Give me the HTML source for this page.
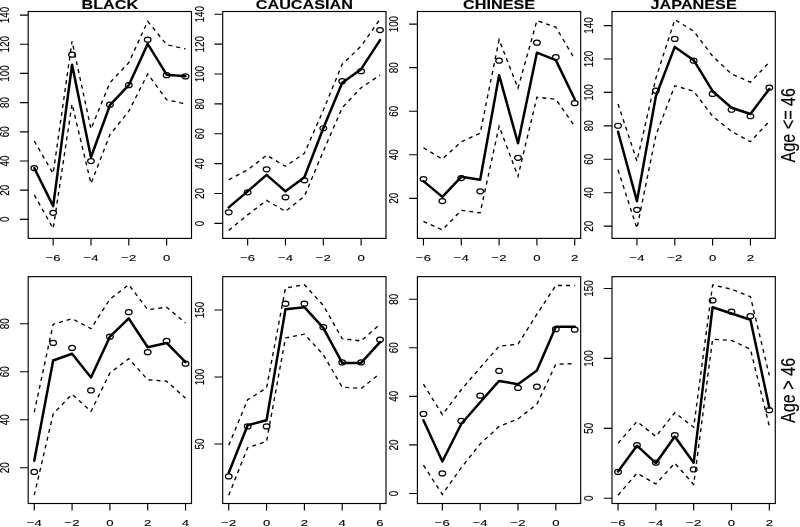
<!DOCTYPE html>
<html><head><meta charset="utf-8"><title>Figure</title>
<style>
html,body{margin:0;padding:0;background:#fff;}
body{width:800px;height:527px;overflow:hidden;}
svg{display:block;}
.t{font-family:"Liberation Sans",Arial,sans-serif;fill:#000;stroke:#000;stroke-width:0.12px;}
.b{font-weight:bold;}
</style></head><body>
<svg width="800" height="527" viewBox="0 0 800 527">
<rect width="800" height="527" fill="#fff"/>
<g>
<path d="M53.16 238.4v7M90.98 238.4v7M128.8 238.4v7M166.62 238.4v7M28.2 219.37h-8.3M28.2 190.19h-8.3M28.2 161h-8.3M28.2 131.81h-8.3M28.2 102.62h-8.3M28.2 73.43h-8.3M28.2 44.24h-8.3M28.2 15.05h-8.3" stroke="#000" stroke-width="1.15" fill="none"/>
<rect x="28.2" y="11.5" width="163.3" height="226.9" fill="none" stroke="#000" stroke-width="1.15"/>
<text class="t" font-size="9.9" text-anchor="middle" transform="translate(53.16 261.1) scale(1.33 1)">−6</text>
<text class="t" font-size="9.9" text-anchor="middle" transform="translate(90.98 261.1) scale(1.33 1)">−4</text>
<text class="t" font-size="9.9" text-anchor="middle" transform="translate(128.8 261.1) scale(1.33 1)">−2</text>
<text class="t" font-size="9.9" text-anchor="middle" transform="translate(166.62 261.1) scale(1.33 1)">0</text>
<text class="t" font-size="9.9" text-anchor="middle" transform="translate(9.2 219.37) scale(1.33 1) rotate(-90)">0</text>
<text class="t" font-size="9.9" text-anchor="middle" transform="translate(9.2 190.19) scale(1.33 1) rotate(-90)">20</text>
<text class="t" font-size="9.9" text-anchor="middle" transform="translate(9.2 161) scale(1.33 1) rotate(-90)">40</text>
<text class="t" font-size="9.9" text-anchor="middle" transform="translate(9.2 131.81) scale(1.33 1) rotate(-90)">60</text>
<text class="t" font-size="9.9" text-anchor="middle" transform="translate(9.2 102.62) scale(1.33 1) rotate(-90)">80</text>
<text class="t" font-size="9.9" text-anchor="middle" transform="translate(9.2 73.43) scale(1.33 1) rotate(-90)">100</text>
<text class="t" font-size="9.9" text-anchor="middle" transform="translate(9.2 44.24) scale(1.33 1) rotate(-90)">120</text>
<text class="t" font-size="9.9" text-anchor="middle" transform="translate(9.2 15.05) scale(1.33 1) rotate(-90)">140</text>
<text class="t b" font-size="12.2" text-anchor="middle" transform="translate(109.85 9.4) scale(1.33 1)">BLACK</text>
<polyline points="34.25,141.02 53.16,173.56 72.07,41.14 90.98,128.96 109.89,82.69 128.8,62.67 147.71,21.36 166.62,44.64 185.53,48.9" fill="none" stroke="#000" stroke-width="1.35" stroke-dasharray="4 4"/>
<polyline points="34.25,194.84 53.16,228.64 72.07,103.97 90.98,183.58 109.89,134.76 128.8,111.23 147.71,73.93 166.62,99.72 185.53,103.97" fill="none" stroke="#000" stroke-width="1.35" stroke-dasharray="4 4"/>
<polyline points="34.25,168.06 53.16,206.11 72.07,64.67 90.98,157.29 109.89,105.22 128.8,85.2 147.71,43.89 166.62,74.68 185.53,76.19" fill="none" stroke="#000" stroke-width="2.5" stroke-linejoin="round" stroke-linecap="round"/>
<ellipse cx="34.25" cy="168.06" rx="3.35" ry="2.5" fill="none" stroke="#000" stroke-width="1.2"/>
<ellipse cx="53.16" cy="212.87" rx="3.35" ry="2.5" fill="none" stroke="#000" stroke-width="1.2"/>
<ellipse cx="72.07" cy="54.66" rx="3.35" ry="2.5" fill="none" stroke="#000" stroke-width="1.2"/>
<ellipse cx="90.98" cy="161.05" rx="3.35" ry="2.5" fill="none" stroke="#000" stroke-width="1.2"/>
<ellipse cx="109.89" cy="104.72" rx="3.35" ry="2.5" fill="none" stroke="#000" stroke-width="1.2"/>
<ellipse cx="128.8" cy="85.2" rx="3.35" ry="2.5" fill="none" stroke="#000" stroke-width="1.2"/>
<ellipse cx="147.71" cy="39.64" rx="3.35" ry="2.5" fill="none" stroke="#000" stroke-width="1.2"/>
<ellipse cx="166.62" cy="75.18" rx="3.35" ry="2.5" fill="none" stroke="#000" stroke-width="1.2"/>
<ellipse cx="185.53" cy="76.44" rx="3.35" ry="2.5" fill="none" stroke="#000" stroke-width="1.2"/>
</g>
<g>
<path d="M247.66 238.4v7M285.48 238.4v7M323.3 238.4v7M361.12 238.4v7M222.7 223.38h-8.3M222.7 193.51h-8.3M222.7 163.64h-8.3M222.7 133.77h-8.3M222.7 103.9h-8.3M222.7 74.03h-8.3M222.7 44.16h-8.3M222.7 14.29h-8.3" stroke="#000" stroke-width="1.15" fill="none"/>
<rect x="222.7" y="11.5" width="163.3" height="226.9" fill="none" stroke="#000" stroke-width="1.15"/>
<text class="t" font-size="9.9" text-anchor="middle" transform="translate(247.66 261.1) scale(1.33 1)">−6</text>
<text class="t" font-size="9.9" text-anchor="middle" transform="translate(285.48 261.1) scale(1.33 1)">−4</text>
<text class="t" font-size="9.9" text-anchor="middle" transform="translate(323.3 261.1) scale(1.33 1)">−2</text>
<text class="t" font-size="9.9" text-anchor="middle" transform="translate(361.12 261.1) scale(1.33 1)">0</text>
<text class="t" font-size="9.9" text-anchor="middle" transform="translate(203.7 223.38) scale(1.33 1) rotate(-90)">0</text>
<text class="t" font-size="9.9" text-anchor="middle" transform="translate(203.7 193.51) scale(1.33 1) rotate(-90)">20</text>
<text class="t" font-size="9.9" text-anchor="middle" transform="translate(203.7 163.64) scale(1.33 1) rotate(-90)">40</text>
<text class="t" font-size="9.9" text-anchor="middle" transform="translate(203.7 133.77) scale(1.33 1) rotate(-90)">60</text>
<text class="t" font-size="9.9" text-anchor="middle" transform="translate(203.7 103.9) scale(1.33 1) rotate(-90)">80</text>
<text class="t" font-size="9.9" text-anchor="middle" transform="translate(203.7 74.03) scale(1.33 1) rotate(-90)">100</text>
<text class="t" font-size="9.9" text-anchor="middle" transform="translate(203.7 44.16) scale(1.33 1) rotate(-90)">120</text>
<text class="t" font-size="9.9" text-anchor="middle" transform="translate(203.7 14.29) scale(1.33 1) rotate(-90)">140</text>
<text class="t b" font-size="12.2" text-anchor="middle" transform="translate(304.35 9.4) scale(1.33 1)">CAUCASIAN</text>
<polyline points="228.75,179.82 247.66,169.81 266.57,155.29 285.48,166.3 304.39,153.29 323.3,110.23 342.21,64.17 361.12,46.15 380.03,19.11" fill="none" stroke="#000" stroke-width="1.35" stroke-dasharray="4 4"/>
<polyline points="228.75,230.39 247.66,214.87 266.57,200.35 285.48,211.36 304.39,196.34 323.3,151.28 342.21,107.73 361.12,87.7 380.03,75.18" fill="none" stroke="#000" stroke-width="1.35" stroke-dasharray="4 4"/>
<polyline points="228.75,207.36 247.66,191.34 266.57,174.82 285.48,191.34 304.39,177.32 323.3,128.25 342.21,82.69 361.12,69.18 380.03,40.14" fill="none" stroke="#000" stroke-width="2.5" stroke-linejoin="round" stroke-linecap="round"/>
<ellipse cx="228.75" cy="212.37" rx="3.35" ry="2.5" fill="none" stroke="#000" stroke-width="1.2"/>
<ellipse cx="247.66" cy="192.34" rx="3.35" ry="2.5" fill="none" stroke="#000" stroke-width="1.2"/>
<ellipse cx="266.57" cy="169.31" rx="3.35" ry="2.5" fill="none" stroke="#000" stroke-width="1.2"/>
<ellipse cx="285.48" cy="197.35" rx="3.35" ry="2.5" fill="none" stroke="#000" stroke-width="1.2"/>
<ellipse cx="304.39" cy="180.32" rx="3.35" ry="2.5" fill="none" stroke="#000" stroke-width="1.2"/>
<ellipse cx="323.3" cy="128.25" rx="3.35" ry="2.5" fill="none" stroke="#000" stroke-width="1.2"/>
<ellipse cx="342.21" cy="81.19" rx="3.35" ry="2.5" fill="none" stroke="#000" stroke-width="1.2"/>
<ellipse cx="361.12" cy="71.18" rx="3.35" ry="2.5" fill="none" stroke="#000" stroke-width="1.2"/>
<ellipse cx="380.03" cy="30.12" rx="3.35" ry="2.5" fill="none" stroke="#000" stroke-width="1.2"/>
</g>
<g>
<path d="M423.45 238.4v7M461.27 238.4v7M499.09 238.4v7M536.91 238.4v7M574.73 238.4v7M417.4 198.35h-8.3M417.4 154.79h-8.3M417.4 111.23h-8.3M417.4 67.67h-8.3M417.4 24.12h-8.3" stroke="#000" stroke-width="1.15" fill="none"/>
<rect x="417.4" y="11.5" width="163.3" height="226.9" fill="none" stroke="#000" stroke-width="1.15"/>
<text class="t" font-size="9.9" text-anchor="middle" transform="translate(423.45 261.1) scale(1.33 1)">−6</text>
<text class="t" font-size="9.9" text-anchor="middle" transform="translate(461.27 261.1) scale(1.33 1)">−4</text>
<text class="t" font-size="9.9" text-anchor="middle" transform="translate(499.09 261.1) scale(1.33 1)">−2</text>
<text class="t" font-size="9.9" text-anchor="middle" transform="translate(536.91 261.1) scale(1.33 1)">0</text>
<text class="t" font-size="9.9" text-anchor="middle" transform="translate(574.73 261.1) scale(1.33 1)">2</text>
<text class="t" font-size="9.9" text-anchor="middle" transform="translate(398.4 198.35) scale(1.33 1) rotate(-90)">20</text>
<text class="t" font-size="9.9" text-anchor="middle" transform="translate(398.4 154.79) scale(1.33 1) rotate(-90)">40</text>
<text class="t" font-size="9.9" text-anchor="middle" transform="translate(398.4 111.23) scale(1.33 1) rotate(-90)">60</text>
<text class="t" font-size="9.9" text-anchor="middle" transform="translate(398.4 67.67) scale(1.33 1) rotate(-90)">80</text>
<text class="t" font-size="9.9" text-anchor="middle" transform="translate(398.4 24.12) scale(1.33 1) rotate(-90)">100</text>
<text class="t b" font-size="12.2" text-anchor="middle" transform="translate(499.05 9.4) scale(1.33 1)">CHINESE</text>
<polyline points="423.45,147.78 442.36,159.1 461.27,141.77 480.18,133.26 499.09,39.64 518,88.2 536.91,20.61 555.82,27.12 574.73,59.16" fill="none" stroke="#000" stroke-width="1.35" stroke-dasharray="4 4"/>
<polyline points="423.45,221.38 442.36,229.89 461.27,210.36 480.18,212.87 499.09,126.25 518,176.32 536.91,97.21 555.82,99.22 574.73,126.25" fill="none" stroke="#000" stroke-width="1.35" stroke-dasharray="4 4"/>
<polyline points="423.45,181.12 442.36,196.85 461.27,176.82 480.18,179.82 499.09,75.18 518,143.27 536.91,52.65 555.82,60.16 574.73,99.22" fill="none" stroke="#000" stroke-width="2.5" stroke-linejoin="round" stroke-linecap="round"/>
<ellipse cx="423.45" cy="179.07" rx="3.35" ry="2.5" fill="none" stroke="#000" stroke-width="1.2"/>
<ellipse cx="442.36" cy="201.1" rx="3.35" ry="2.5" fill="none" stroke="#000" stroke-width="1.2"/>
<ellipse cx="461.27" cy="178.07" rx="3.35" ry="2.5" fill="none" stroke="#000" stroke-width="1.2"/>
<ellipse cx="480.18" cy="191.34" rx="3.35" ry="2.5" fill="none" stroke="#000" stroke-width="1.2"/>
<ellipse cx="499.09" cy="60.67" rx="3.35" ry="2.5" fill="none" stroke="#000" stroke-width="1.2"/>
<ellipse cx="518" cy="157.79" rx="3.35" ry="2.5" fill="none" stroke="#000" stroke-width="1.2"/>
<ellipse cx="536.91" cy="42.64" rx="3.35" ry="2.5" fill="none" stroke="#000" stroke-width="1.2"/>
<ellipse cx="555.82" cy="57.16" rx="3.35" ry="2.5" fill="none" stroke="#000" stroke-width="1.2"/>
<ellipse cx="574.73" cy="103.22" rx="3.35" ry="2.5" fill="none" stroke="#000" stroke-width="1.2"/>
</g>
<g>
<path d="M636.96 238.4v7M674.78 238.4v7M712.6 238.4v7M750.42 238.4v7M612 226.13h-8.3M612 192.71h-8.3M612 159.29h-8.3M612 125.86h-8.3M612 92.44h-8.3M612 59.01h-8.3M612 25.59h-8.3" stroke="#000" stroke-width="1.15" fill="none"/>
<rect x="612" y="11.5" width="163.3" height="226.9" fill="none" stroke="#000" stroke-width="1.15"/>
<text class="t" font-size="9.9" text-anchor="middle" transform="translate(636.96 261.1) scale(1.33 1)">−4</text>
<text class="t" font-size="9.9" text-anchor="middle" transform="translate(674.78 261.1) scale(1.33 1)">−2</text>
<text class="t" font-size="9.9" text-anchor="middle" transform="translate(712.6 261.1) scale(1.33 1)">0</text>
<text class="t" font-size="9.9" text-anchor="middle" transform="translate(750.42 261.1) scale(1.33 1)">2</text>
<text class="t" font-size="9.9" text-anchor="middle" transform="translate(593 226.13) scale(1.33 1) rotate(-90)">20</text>
<text class="t" font-size="9.9" text-anchor="middle" transform="translate(593 192.71) scale(1.33 1) rotate(-90)">40</text>
<text class="t" font-size="9.9" text-anchor="middle" transform="translate(593 159.29) scale(1.33 1) rotate(-90)">60</text>
<text class="t" font-size="9.9" text-anchor="middle" transform="translate(593 125.86) scale(1.33 1) rotate(-90)">80</text>
<text class="t" font-size="9.9" text-anchor="middle" transform="translate(593 92.44) scale(1.33 1) rotate(-90)">100</text>
<text class="t" font-size="9.9" text-anchor="middle" transform="translate(593 59.01) scale(1.33 1) rotate(-90)">120</text>
<text class="t" font-size="9.9" text-anchor="middle" transform="translate(593 25.59) scale(1.33 1) rotate(-90)">140</text>
<text class="t b" font-size="12.2" text-anchor="middle" transform="translate(693.65 9.4) scale(1.33 1)">JAPANESE</text>
<text class="t" font-size="16.15" text-anchor="middle" transform="translate(794.6 125.25) scale(1.2 1) rotate(-90)">Age <= 46</text>
<polyline points="618.05,103.97 636.96,161.05 655.87,78.19 674.78,19.61 693.69,31.13 712.6,56.16 731.51,73.93 750.42,82.19 769.33,62.17" fill="none" stroke="#000" stroke-width="1.35" stroke-dasharray="4 4"/>
<polyline points="618.05,169.81 636.96,228.39 655.87,135.26 674.78,85.7 693.69,91.21 712.6,116.24 731.51,131.26 750.42,141.77 769.33,121.25" fill="none" stroke="#000" stroke-width="1.35" stroke-dasharray="4 4"/>
<polyline points="618.05,131.76 636.96,201.1 655.87,96.21 674.78,46.9 693.69,60.16 712.6,91.21 731.51,107.73 750.42,113.99 769.33,88.95" fill="none" stroke="#000" stroke-width="2.5" stroke-linejoin="round" stroke-linecap="round"/>
<ellipse cx="618.05" cy="125.75" rx="3.35" ry="2.5" fill="none" stroke="#000" stroke-width="1.2"/>
<ellipse cx="636.96" cy="209.86" rx="3.35" ry="2.5" fill="none" stroke="#000" stroke-width="1.2"/>
<ellipse cx="655.87" cy="90.7" rx="3.35" ry="2.5" fill="none" stroke="#000" stroke-width="1.2"/>
<ellipse cx="674.78" cy="38.89" rx="3.35" ry="2.5" fill="none" stroke="#000" stroke-width="1.2"/>
<ellipse cx="693.69" cy="60.67" rx="3.35" ry="2.5" fill="none" stroke="#000" stroke-width="1.2"/>
<ellipse cx="712.6" cy="93.96" rx="3.35" ry="2.5" fill="none" stroke="#000" stroke-width="1.2"/>
<ellipse cx="731.51" cy="109.73" rx="3.35" ry="2.5" fill="none" stroke="#000" stroke-width="1.2"/>
<ellipse cx="750.42" cy="116.24" rx="3.35" ry="2.5" fill="none" stroke="#000" stroke-width="1.2"/>
<ellipse cx="769.33" cy="87.7" rx="3.35" ry="2.5" fill="none" stroke="#000" stroke-width="1.2"/>
</g>
<g>
<path d="M34.25 503.5v7M72.07 503.5v7M109.89 503.5v7M147.71 503.5v7M185.53 503.5v7M28.2 467.7h-8.3M28.2 419.7h-8.3M28.2 371.7h-8.3M28.2 323.7h-8.3" stroke="#000" stroke-width="1.15" fill="none"/>
<rect x="28.2" y="276.65" width="163.3" height="226.85" fill="none" stroke="#000" stroke-width="1.15"/>
<text class="t" font-size="9.9" text-anchor="middle" transform="translate(34.25 525.7) scale(1.33 1)">−4</text>
<text class="t" font-size="9.9" text-anchor="middle" transform="translate(72.07 525.7) scale(1.33 1)">−2</text>
<text class="t" font-size="9.9" text-anchor="middle" transform="translate(109.89 525.7) scale(1.33 1)">0</text>
<text class="t" font-size="9.9" text-anchor="middle" transform="translate(147.71 525.7) scale(1.33 1)">2</text>
<text class="t" font-size="9.9" text-anchor="middle" transform="translate(185.53 525.7) scale(1.33 1)">4</text>
<text class="t" font-size="9.9" text-anchor="middle" transform="translate(9.2 467.7) scale(1.33 1) rotate(-90)">20</text>
<text class="t" font-size="9.9" text-anchor="middle" transform="translate(9.2 419.7) scale(1.33 1) rotate(-90)">40</text>
<text class="t" font-size="9.9" text-anchor="middle" transform="translate(9.2 371.7) scale(1.33 1) rotate(-90)">60</text>
<text class="t" font-size="9.9" text-anchor="middle" transform="translate(9.2 323.7) scale(1.33 1) rotate(-90)">80</text>
<polyline points="34.25,412.2 53.16,324.2 72.07,318.7 90.98,328.7 109.89,299.2 128.8,284.7 147.71,309.7 166.62,307.2 185.53,322.95" fill="none" stroke="#000" stroke-width="1.35" stroke-dasharray="4 4"/>
<polyline points="34.25,495.2 53.16,413.95 72.07,394.2 90.98,411.45 109.89,372.95 128.8,358.7 147.71,379.7 166.62,381.2 185.53,398.2" fill="none" stroke="#000" stroke-width="1.35" stroke-dasharray="4 4"/>
<polyline points="34.25,460.7 53.16,360.45 72.07,353.7 90.98,377.45 109.89,336.7 128.8,318.45 147.71,347.2 166.62,342.95 185.53,362.2" fill="none" stroke="#000" stroke-width="2.5" stroke-linejoin="round" stroke-linecap="round"/>
<ellipse cx="34.25" cy="471.95" rx="3.35" ry="2.5" fill="none" stroke="#000" stroke-width="1.2"/>
<ellipse cx="53.16" cy="342.95" rx="3.35" ry="2.5" fill="none" stroke="#000" stroke-width="1.2"/>
<ellipse cx="72.07" cy="347.95" rx="3.35" ry="2.5" fill="none" stroke="#000" stroke-width="1.2"/>
<ellipse cx="90.98" cy="390.45" rx="3.35" ry="2.5" fill="none" stroke="#000" stroke-width="1.2"/>
<ellipse cx="109.89" cy="336.7" rx="3.35" ry="2.5" fill="none" stroke="#000" stroke-width="1.2"/>
<ellipse cx="128.8" cy="312.2" rx="3.35" ry="2.5" fill="none" stroke="#000" stroke-width="1.2"/>
<ellipse cx="147.71" cy="352.2" rx="3.35" ry="2.5" fill="none" stroke="#000" stroke-width="1.2"/>
<ellipse cx="166.62" cy="340.95" rx="3.35" ry="2.5" fill="none" stroke="#000" stroke-width="1.2"/>
<ellipse cx="185.53" cy="363.7" rx="3.35" ry="2.5" fill="none" stroke="#000" stroke-width="1.2"/>
</g>
<g>
<path d="M228.75 503.5v7M266.57 503.5v7M304.39 503.5v7M342.21 503.5v7M380.03 503.5v7M222.7 443.95h-8.3M222.7 376.95h-8.3M222.7 309.95h-8.3" stroke="#000" stroke-width="1.15" fill="none"/>
<rect x="222.7" y="276.65" width="163.3" height="226.85" fill="none" stroke="#000" stroke-width="1.15"/>
<text class="t" font-size="9.9" text-anchor="middle" transform="translate(228.75 525.7) scale(1.33 1)">−2</text>
<text class="t" font-size="9.9" text-anchor="middle" transform="translate(266.57 525.7) scale(1.33 1)">0</text>
<text class="t" font-size="9.9" text-anchor="middle" transform="translate(304.39 525.7) scale(1.33 1)">2</text>
<text class="t" font-size="9.9" text-anchor="middle" transform="translate(342.21 525.7) scale(1.33 1)">4</text>
<text class="t" font-size="9.9" text-anchor="middle" transform="translate(380.03 525.7) scale(1.33 1)">6</text>
<text class="t" font-size="9.9" text-anchor="middle" transform="translate(203.7 443.95) scale(1.33 1) rotate(-90)">50</text>
<text class="t" font-size="9.9" text-anchor="middle" transform="translate(203.7 376.95) scale(1.33 1) rotate(-90)">100</text>
<text class="t" font-size="9.9" text-anchor="middle" transform="translate(203.7 309.95) scale(1.33 1) rotate(-90)">150</text>
<polyline points="228.75,445.2 247.66,399.7 266.57,387.95 285.48,287.95 304.39,284.7 323.3,305.45 342.21,338.7 361.12,340.95 380.03,324.2" fill="none" stroke="#000" stroke-width="1.35" stroke-dasharray="4 4"/>
<polyline points="228.75,495.2 247.66,447.7 266.57,441.45 285.48,337.95 304.39,334.2 323.3,354.7 342.21,387.2 361.12,388.45 380.03,373.45" fill="none" stroke="#000" stroke-width="1.35" stroke-dasharray="4 4"/>
<polyline points="228.75,472.7 247.66,425.2 266.57,420.2 285.48,309.2 304.39,307.2 323.3,327.95 342.21,362.95 361.12,362.95 380.03,342.2" fill="none" stroke="#000" stroke-width="2.5" stroke-linejoin="round" stroke-linecap="round"/>
<ellipse cx="228.75" cy="476.45" rx="3.35" ry="2.5" fill="none" stroke="#000" stroke-width="1.2"/>
<ellipse cx="247.66" cy="426.45" rx="3.35" ry="2.5" fill="none" stroke="#000" stroke-width="1.2"/>
<ellipse cx="266.57" cy="426.45" rx="3.35" ry="2.5" fill="none" stroke="#000" stroke-width="1.2"/>
<ellipse cx="285.48" cy="303.7" rx="3.35" ry="2.5" fill="none" stroke="#000" stroke-width="1.2"/>
<ellipse cx="304.39" cy="303.7" rx="3.35" ry="2.5" fill="none" stroke="#000" stroke-width="1.2"/>
<ellipse cx="323.3" cy="327.2" rx="3.35" ry="2.5" fill="none" stroke="#000" stroke-width="1.2"/>
<ellipse cx="342.21" cy="362.45" rx="3.35" ry="2.5" fill="none" stroke="#000" stroke-width="1.2"/>
<ellipse cx="361.12" cy="362.45" rx="3.35" ry="2.5" fill="none" stroke="#000" stroke-width="1.2"/>
<ellipse cx="380.03" cy="339.7" rx="3.35" ry="2.5" fill="none" stroke="#000" stroke-width="1.2"/>
</g>
<g>
<path d="M442.36 503.5v7M480.18 503.5v7M518 503.5v7M555.82 503.5v7M417.4 493.45h-8.3M417.4 444.89h-8.3M417.4 396.33h-8.3M417.4 347.77h-8.3M417.4 299.21h-8.3" stroke="#000" stroke-width="1.15" fill="none"/>
<rect x="417.4" y="276.65" width="163.3" height="226.85" fill="none" stroke="#000" stroke-width="1.15"/>
<text class="t" font-size="9.9" text-anchor="middle" transform="translate(442.36 525.7) scale(1.33 1)">−6</text>
<text class="t" font-size="9.9" text-anchor="middle" transform="translate(480.18 525.7) scale(1.33 1)">−4</text>
<text class="t" font-size="9.9" text-anchor="middle" transform="translate(518 525.7) scale(1.33 1)">−2</text>
<text class="t" font-size="9.9" text-anchor="middle" transform="translate(555.82 525.7) scale(1.33 1)">0</text>
<text class="t" font-size="9.9" text-anchor="middle" transform="translate(398.4 493.45) scale(1.33 1) rotate(-90)">0</text>
<text class="t" font-size="9.9" text-anchor="middle" transform="translate(398.4 444.89) scale(1.33 1) rotate(-90)">20</text>
<text class="t" font-size="9.9" text-anchor="middle" transform="translate(398.4 396.33) scale(1.33 1) rotate(-90)">40</text>
<text class="t" font-size="9.9" text-anchor="middle" transform="translate(398.4 347.77) scale(1.33 1) rotate(-90)">60</text>
<text class="t" font-size="9.9" text-anchor="middle" transform="translate(398.4 299.21) scale(1.33 1) rotate(-90)">80</text>
<polyline points="423.45,384.2 442.36,414.7 461.27,389.7 480.18,367.8 499.09,346.2 518,344.2 536.91,314.2 555.82,285.45 574.73,285.45" fill="none" stroke="#000" stroke-width="1.35" stroke-dasharray="4 4"/>
<polyline points="423.45,465.2 442.36,494.45 461.27,467.7 480.18,443.95 499.09,426.45 518,418.95 536.91,404.2 555.82,364.2 574.73,363.7" fill="none" stroke="#000" stroke-width="1.35" stroke-dasharray="4 4"/>
<polyline points="423.45,420.2 442.36,461.45 461.27,423.95 480.18,402.2 499.09,380.95 518,384.2 536.91,370.45 555.82,326.7 574.73,326.7" fill="none" stroke="#000" stroke-width="2.5" stroke-linejoin="round" stroke-linecap="round"/>
<ellipse cx="423.45" cy="413.95" rx="3.35" ry="2.5" fill="none" stroke="#000" stroke-width="1.2"/>
<ellipse cx="442.36" cy="473.45" rx="3.35" ry="2.5" fill="none" stroke="#000" stroke-width="1.2"/>
<ellipse cx="461.27" cy="420.95" rx="3.35" ry="2.5" fill="none" stroke="#000" stroke-width="1.2"/>
<ellipse cx="480.18" cy="395.7" rx="3.35" ry="2.5" fill="none" stroke="#000" stroke-width="1.2"/>
<ellipse cx="499.09" cy="370.95" rx="3.35" ry="2.5" fill="none" stroke="#000" stroke-width="1.2"/>
<ellipse cx="518" cy="387.95" rx="3.35" ry="2.5" fill="none" stroke="#000" stroke-width="1.2"/>
<ellipse cx="536.91" cy="386.7" rx="3.35" ry="2.5" fill="none" stroke="#000" stroke-width="1.2"/>
<ellipse cx="555.82" cy="329.2" rx="3.35" ry="2.5" fill="none" stroke="#000" stroke-width="1.2"/>
<ellipse cx="574.73" cy="329.7" rx="3.35" ry="2.5" fill="none" stroke="#000" stroke-width="1.2"/>
</g>
<g>
<path d="M618.05 503.5v7M655.87 503.5v7M693.69 503.5v7M731.51 503.5v7M769.33 503.5v7M612 498.2h-8.3M612 428.3h-8.3M612 358.4h-8.3M612 288.5h-8.3" stroke="#000" stroke-width="1.15" fill="none"/>
<rect x="612" y="276.65" width="163.3" height="226.85" fill="none" stroke="#000" stroke-width="1.15"/>
<text class="t" font-size="9.9" text-anchor="middle" transform="translate(618.05 525.7) scale(1.33 1)">−6</text>
<text class="t" font-size="9.9" text-anchor="middle" transform="translate(655.87 525.7) scale(1.33 1)">−4</text>
<text class="t" font-size="9.9" text-anchor="middle" transform="translate(693.69 525.7) scale(1.33 1)">−2</text>
<text class="t" font-size="9.9" text-anchor="middle" transform="translate(731.51 525.7) scale(1.33 1)">0</text>
<text class="t" font-size="9.9" text-anchor="middle" transform="translate(769.33 525.7) scale(1.33 1)">2</text>
<text class="t" font-size="9.9" text-anchor="middle" transform="translate(593 498.2) scale(1.33 1) rotate(-90)">0</text>
<text class="t" font-size="9.9" text-anchor="middle" transform="translate(593 428.3) scale(1.33 1) rotate(-90)">50</text>
<text class="t" font-size="9.9" text-anchor="middle" transform="translate(593 358.4) scale(1.33 1) rotate(-90)">100</text>
<text class="t" font-size="9.9" text-anchor="middle" transform="translate(593 288.5) scale(1.33 1) rotate(-90)">150</text>
<text class="t" font-size="16.15" text-anchor="middle" transform="translate(794.6 390.38) scale(1.2 1) rotate(-90)">Age > 46</text>
<polyline points="618.05,443.2 636.96,421.45 655.87,436.45 674.78,412.7 693.69,427.2 712.6,284.95 731.51,289.2 750.42,296.7 769.33,375.45" fill="none" stroke="#000" stroke-width="1.35" stroke-dasharray="4 4"/>
<polyline points="618.05,495.2 636.96,473.2 655.87,483.95 674.78,463.2 693.69,484.45 712.6,339.2 731.51,340.45 750.42,349.2 769.33,426.2" fill="none" stroke="#000" stroke-width="1.35" stroke-dasharray="4 4"/>
<polyline points="618.05,471.45 636.96,445.7 655.87,463.2 674.78,436.45 693.69,462.7 712.6,307.2 731.51,313.45 750.42,319.7 769.33,407.7" fill="none" stroke="#000" stroke-width="2.5" stroke-linejoin="round" stroke-linecap="round"/>
<ellipse cx="618.05" cy="471.95" rx="3.35" ry="2.5" fill="none" stroke="#000" stroke-width="1.2"/>
<ellipse cx="636.96" cy="445.2" rx="3.35" ry="2.5" fill="none" stroke="#000" stroke-width="1.2"/>
<ellipse cx="655.87" cy="462.7" rx="3.35" ry="2.5" fill="none" stroke="#000" stroke-width="1.2"/>
<ellipse cx="674.78" cy="435.2" rx="3.35" ry="2.5" fill="none" stroke="#000" stroke-width="1.2"/>
<ellipse cx="693.69" cy="469.45" rx="3.35" ry="2.5" fill="none" stroke="#000" stroke-width="1.2"/>
<ellipse cx="712.6" cy="300.45" rx="3.35" ry="2.5" fill="none" stroke="#000" stroke-width="1.2"/>
<ellipse cx="731.51" cy="311.7" rx="3.35" ry="2.5" fill="none" stroke="#000" stroke-width="1.2"/>
<ellipse cx="750.42" cy="316.2" rx="3.35" ry="2.5" fill="none" stroke="#000" stroke-width="1.2"/>
<ellipse cx="769.33" cy="410.2" rx="3.35" ry="2.5" fill="none" stroke="#000" stroke-width="1.2"/>
</g>
</svg>
</body></html>
